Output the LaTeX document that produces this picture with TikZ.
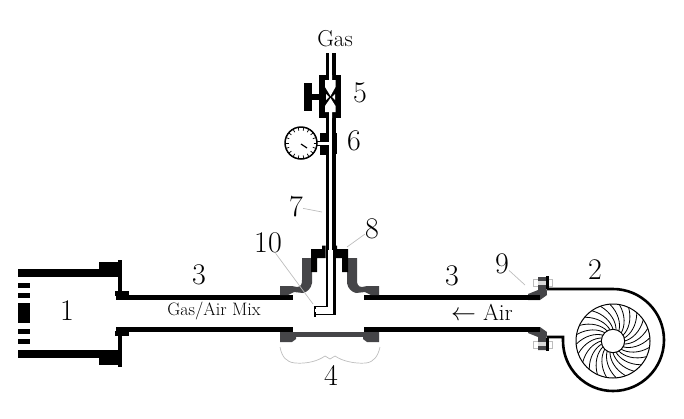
\documentclass[tikz,border=0pt]{standalone}
\definecolor{nozzlegrey}{HTML}{454548}
\definecolor{leadergrey}{HTML}{BDBDBD}
\tikzset{
    wall/.style={fill=black, draw=none},
    nozzle/.style={fill=nozzlegrey, draw=none},
    leader/.style={draw=leadergrey, line width=0.7pt},
    bignum/.style={font=\fontsize{30}{30}\selectfont, inner sep=0pt},
    midtext/.style={font=\fontsize{23}{23}\selectfont, inner sep=0pt},
    smalltext/.style={font=\fontsize{18}{18}\selectfont, inner sep=0pt}
}
\begin{document}
\begin{tikzpicture}[x=1pt, y=-1pt]
    \useasboundingbox (0, 0) rectangle (684, 418);

    % burner and pipes, top and bottom are mirrored
    \foreach \ys/\yo in {1/0, -1/627} {
        \begin{scope}[shift={(0, \yo)}, yscale=\ys]
            \fill[wall] (18, 269) rectangle (99, 277);
            \fill[wall] (99, 262) rectangle (122, 277);
            \fill[wall] (118, 260) rectangle (122, 294);
            \fill[wall] (115, 291) rectangle (129, 296);
            \fill[wall] (116, 295) rectangle (293, 300);
            % bolt at the blower
            \draw[draw=leadergrey, fill=white, line width=0.6pt] (533, 279) rectangle (552, 286);
            \fill[nozzle] (538, 277) -- (546, 277) -- (547, 295) -- (540, 300) -- (528, 300) -- (528, 294) -- (538, 290) -- cycle;
            \fill[white!85!black] (538, 281) rectangle (546, 285);
            \fill[wall] (546, 276) rectangle (548.5, 289);
            \fill[wall] (364, 295) rectangle (540, 300);
            \fill[wall] (18, 283) rectangle (30, 288);
            \fill[wall] (18, 293) rectangle (30, 298);
        \end{scope}
    }
    \fill[wall] (18, 303) rectangle (30, 323);

    % venturi, left side and mirrored right side
    \foreach \xs/\xo in {1/0, -1/659} {
        \begin{scope}[shift={(\xo, 0)}, xscale=\xs]
            \fill[nozzle] (302, 258) -- (312, 258) -- (312, 283) .. controls (311, 289) and (307, 292) .. (303, 293)
                -- (294, 292) -- (288, 295) -- (280, 295) -- (280, 286) -- (292, 286) -- (297, 287)
                .. controls (301, 287) and (302, 284) .. (302, 280) -- cycle;
            \fill[wall] (311, 249) -- (322, 249) -- (322, 245.5) -- (325.5, 245.5) -- (325.5, 258) -- (317, 258) -- (317, 272) -- (311, 272) -- cycle;
            \fill[nozzle] (280, 332) -- (296, 332) -- (296, 339) -- (292, 342) -- (280, 342) -- cycle;
        \end{scope}
    }
    \fill[nozzle] (296, 332) rectangle (364, 337);

    % gas pipe
    \fill[wall] (325.5, 53) rectangle (329, 250);
    \fill[wall] (332, 53) rectangle (336, 250);
    \fill[wall] (326, 250) rectangle (328.2, 307);
    \fill[wall] (333.4, 250) rectangle (335.6, 315);
    \draw[line width=1.3pt] (327, 306.5) -- (315, 306.5);
    \draw[line width=1.3pt] (335, 314.5) -- (315, 314.5);
    \fill[wall] (313.5, 305.5) rectangle (316, 316.5);
    \fill[white] (315, 309) rectangle (317, 312);

    % valve
    \fill[wall] (319, 75) rectangle (341, 118);
    \fill[wall] (304, 83) rectangle (312, 111);
    \fill[wall] (312, 94) rectangle (319, 100);
    \fill[white] (329, 75) -- (332, 75) -- (332, 80) -- (335.5, 80) -- (335.5, 87) -- (330.5, 96) -- (325, 87) -- (325, 80) -- (329, 80) -- cycle;
    \fill[white] (329, 118) -- (332, 118) -- (332, 112) -- (335.5, 112) -- (335.5, 106) -- (330.5, 98) -- (325, 106) -- (325, 112) -- (329, 112) -- cycle;
    \fill[white] (326, 94) -- (329, 97) -- (326, 100) -- cycle;
    \fill[white] (335, 94) -- (332, 97) -- (335, 100) -- cycle;

    % gauge
    \fill[wall] (320, 133) rectangle (325.5, 155);
    \fill[wall] (333, 133) rectangle (337, 154);
    \fill[white] (316, 142) rectangle (329, 145);
    \draw[line width=1pt] (316, 141.5) -- (328, 141.5);
    \draw[line width=1pt] (316, 145.5) -- (328, 145.5);
    \draw[line width=1.5pt, fill=white] (301, 143) circle[radius=16];
    \foreach \a in {0, 20, ..., 340} {
        \draw[line width=0.7pt, shift={(301, 143)}, rotate=\a] (12.5, 0) -- (15.5, 0);
    }
    \draw[line width=1.2pt] (301, 144) -- (307, 148);

    % blower
    \draw[line width=2.6pt] (547, 289) -- (613, 289) arc[start angle=-90, end angle=90, radius=51]
        arc[start angle=90, end angle=180, radius=50] -- (563, 337) -- (547, 337);
    \draw[line width=1pt] (613, 341) circle[radius=37];
    \draw[line width=1pt] (613, 341) circle[radius=11.7];
    \foreach \a in {0, 15, ..., 345} {
        \draw[line width=0.8pt, shift={(613, 341)}, rotate=\a] (11.7, 0) .. controls (19, -2) and (27, -9) .. (30.3, -21.2);
    }

    % brace below the venturi
    \draw[leadergrey, line width=0.7pt] (280, 347) .. controls (282, 357) and (286, 362) .. (295, 363)
        .. controls (307, 364) and (318, 361) .. (325, 356) -- (330, 359) -- (335, 356)
        .. controls (342, 361) and (355, 364) .. (366, 363) .. controls (374, 362) and (378, 356) .. (380, 347);

    % labels
    \node[midtext] (gas) at (335, 39) {Gas};
    \node[bignum] (five) at (360, 93) {5};
    \node[bignum] (six) at (354, 141) {6};
    \node[bignum] (seven) at (296, 207) {7};
    \node[bignum] (eight) at (372, 229) {8};
    \node[bignum] (ten) at (268, 243) {10};
    \node[bignum] (threea) at (199, 275) {3};
    \node[bignum] (threeb) at (452, 276) {3};
    \node[bignum] (nine) at (502, 264) {9};
    \node[bignum] (two) at (595, 270) {2};
    \node[bignum] (one) at (67, 311) {1};
    \node[bignum] (four) at (331, 375) {4};
    \node[smalltext] (mix) at (214, 311) {Gas/Air Mix};
    \node[midtext] (air) at (482, 312) {$\leftarrow$ Air};

    % leaders
    \coordinate (tipseven) at (322, 212);
    \coordinate (tipeight) at (347, 247);
    \coordinate (tipten) at (313, 304);
    \coordinate (tipnine) at (525, 285);
    \draw[leader] (seven) -- (tipseven);
    \draw[leader] (eight) -- (tipeight);
    \draw[leader] (ten) -- (tipten);
    \draw[leader] (nine) -- (tipnine);
\end{tikzpicture}
\end{document}
